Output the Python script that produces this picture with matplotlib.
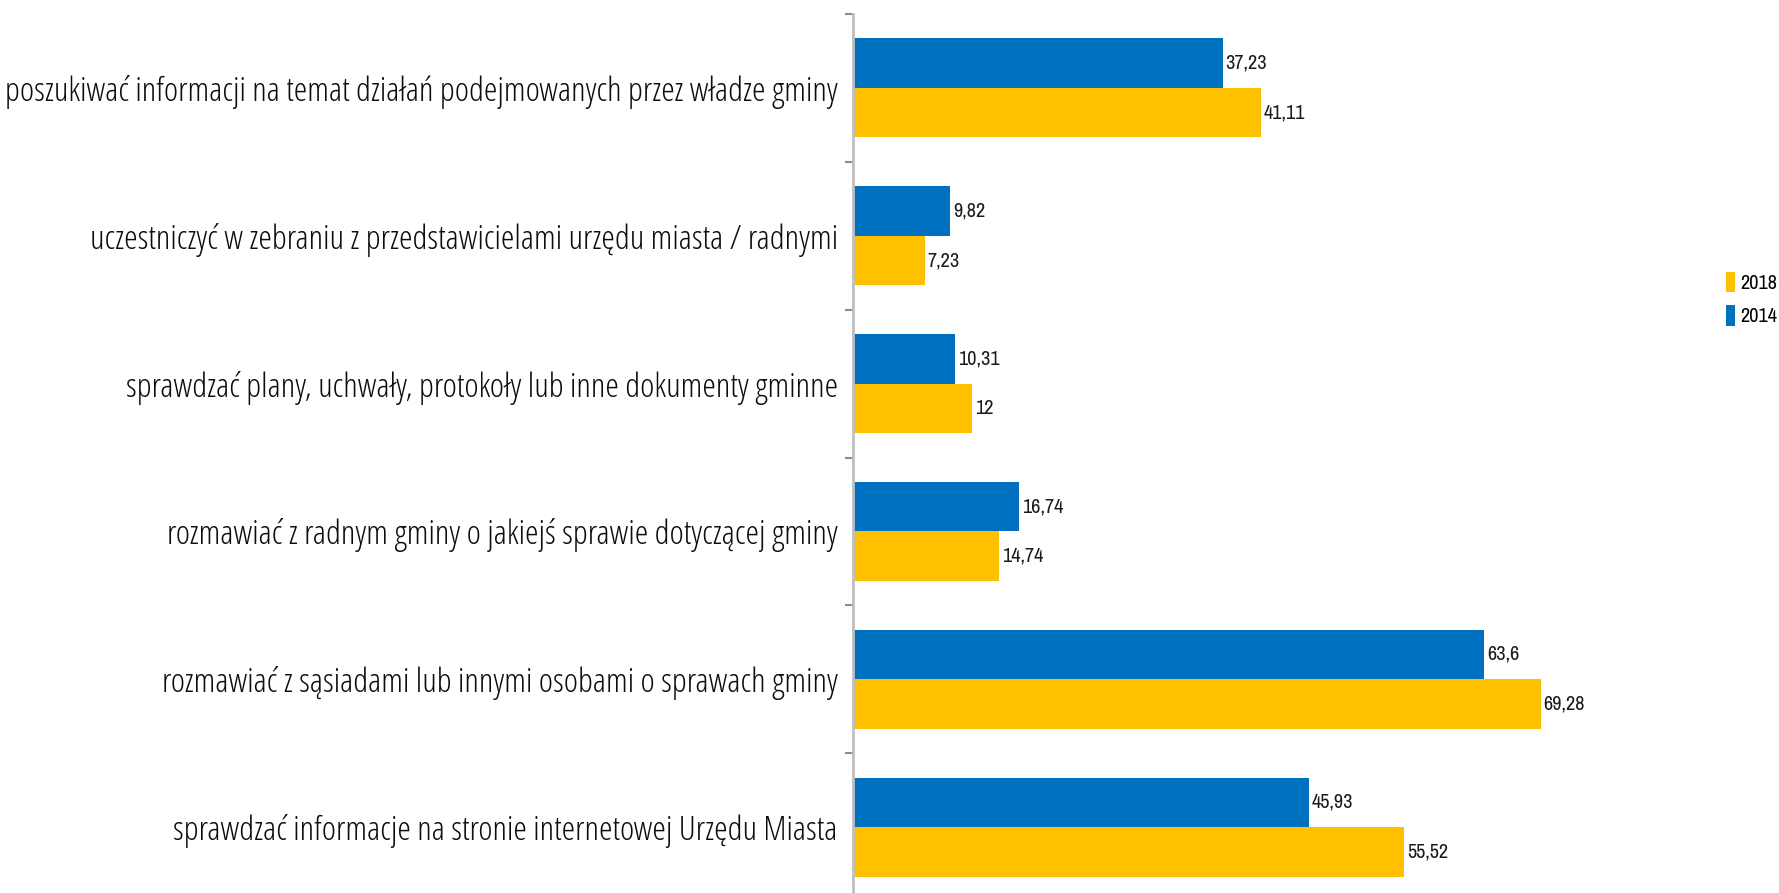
import numpy as np
import matplotlib.pyplot as plt
from matplotlib.font_manager import FontProperties

# Dane
categories = [
    "poszukiwać informacji na temat działań podejmowanych przez władze gminy",
    "uczestniczyć w zebraniu z przedstawicielami urzędu miasta / radnymi",
    "sprawdzać plany, uchwały, protokoły lub inne dokumenty gminne",
    "rozmawiać z radnym gminy o jakiejś sprawie dotyczącej gminy",
    "rozmawiać z sąsiadami lub innymi osobami o sprawach gminy",
    "sprawdzać informacje na stronie internetowej Urzędu Miasta",
]
values_2014 = [37.23, 9.82, 10.31, 16.74, 63.6, 45.93]
values_2018 = [41.11, 7.23, 12, 14.74, 69.28, 55.52]
labels_2014 = ["37,23", "9,82", "10,31", "16,74", "63,6", "45,93"]
labels_2018 = ["41,11", "7,23", "12", "14,74", "69,28", "55,52"]

blue = "#0070C0"
yellow = "#FFC000"

cat_font = FontProperties(family="Open Sans", stretch="condensed", weight="regular", size=20)
num_font = FontProperties(family="Archivo Narrow", size=15)

fig = plt.figure(figsize=(17.79, 8.93), dpi=100)
ax = fig.add_axes([853 / 1779, -8 / 893, 794 / 1779, 887 / 893])

# dopasowanie rozmiaru czcionek do szerokości tekstów w oryginale
r = fig.canvas.get_renderer()
t = fig.text(0, 0, categories[0], fontproperties=cat_font)
cat_font.set_size(20 * 831 / t.get_window_extent(r).width)
t.remove()
t = fig.text(0, 0, "37,23", fontproperties=num_font)
num_font.set_size(15 * 42 / t.get_window_extent(r).width)
t.remove()

n = len(categories)
y = np.arange(n)
h = 0.335
b1 = ax.barh(y - h / 2, values_2014, height=h, color=blue, label="2014")
b2 = ax.barh(y + h / 2, values_2018, height=h, color=yellow, label="2018")

for bars, labs in ((b1, labels_2014), (b2, labels_2018)):
    for bar, lab in zip(bars, labs):
        ax.text(bar.get_width() + 0.3, bar.get_y() + bar.get_height() / 2, lab,
                va="center", ha="left", fontproperties=num_font, color="#1a1a1a")

ax.set_xlim(0, 80)
ax.set_ylim(n - 0.5, -0.5)

# etykiety kategorii
ax.set_yticks(y)
ax.set_yticklabels(categories, fontproperties=cat_font, color="#0d0d0d")
ax.tick_params(axis="y", which="major", length=0, pad=11)
ax.set_yticks(np.arange(n + 1) - 0.5, minor=True)
ax.tick_params(axis="y", which="minor", length=6, width=1.5, color="#8c8c8c", direction="out")
ax.set_xticks([])

for s in ("top", "right", "bottom"):
    ax.spines[s].set_visible(False)
ax.spines["left"].set_color("#bfbfbf")
ax.spines["left"].set_linewidth(2)

handles, labels = ax.get_legend_handles_labels()
fig.legend(handles[::-1], labels[::-1], loc="center left",
           bbox_to_anchor=(1726 / 1779, 1 - 299 / 893), frameon=False,
           prop=num_font, handlelength=0.45, handleheight=1.2,
           handletextpad=0.25, labelspacing=0.6, borderaxespad=0, borderpad=0)

fig.savefig("out.png", dpi=100)
